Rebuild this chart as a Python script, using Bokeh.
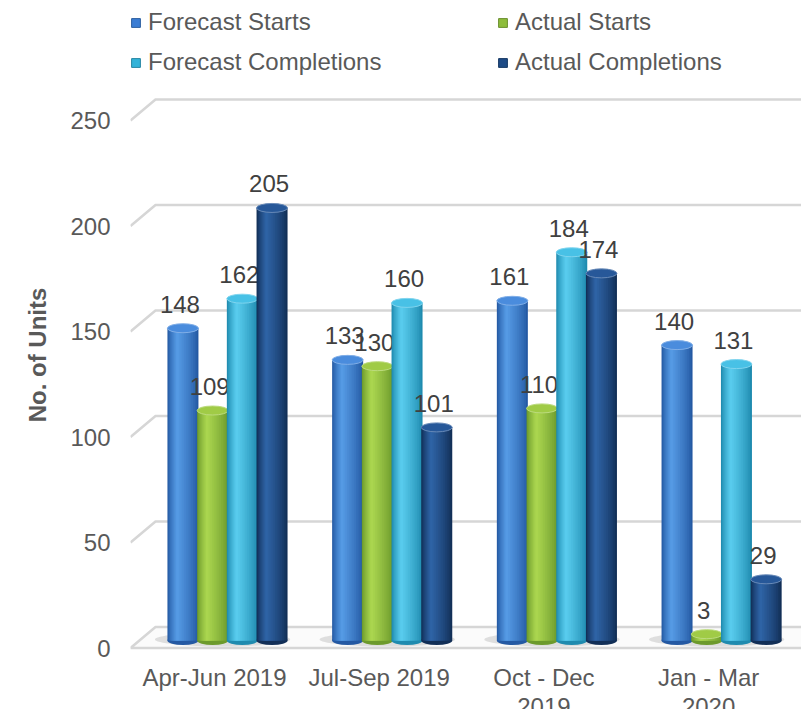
from bokeh.plotting import figure
from bokeh.models import Range1d, LinearAxis, FixedTicker, Legend, LegendItem
from bokeh.core.properties import value
from bokeh.embed import file_html
from bokeh.resources import INLINE

# ---------------- data ----------------
categories = ["Apr-Jun 2019", "Jul-Sep 2019", "Oct - Dec\n2019", "Jan - Mar\n2020"]
series_names = ["Forecast Starts", "Actual Starts", "Forecast Completions", "Actual Completions"]
forecast_starts = [148, 133, 161, 140]
actual_starts = [109, 130, 110, 3]
forecast_completions = [162, 160, 184, 131]
actual_completions = [205, 101, 174, 29]
y_ticks = [0, 50, 100, 150, 200, 250]
y_title = "No. of Units"

series_values = [forecast_starts, actual_starts, forecast_completions, actual_completions]

# ---------------- styles ----------------
FONT = value("Liberation Sans")
# (dark edge, light highlight, top cap, legend/base)
palette = [
    ("#2459a3", "#559ae4", "#4a8cdd", "#3b7dd4"),
    ("#6c9a2c", "#aad54f", "#a0cb46", "#8ebd3c"),
    ("#1f8baf", "#58cbed", "#48c1e6", "#33b3d9"),
    ("#122f57", "#2e63a5", "#275899", "#1e4b86"),
]

W, H = 801, 709
PX_Y = 2.11            # px per unit
PX_X = 164.7           # px per category
frame_left_px = 130
frame_w = W - frame_left_px
y_start = (640 - H) / PX_Y
y_end = y_start + H / PX_Y
x_start = -84 / PX_X
x_end = x_start + frame_w / PX_X

front_off = 7.5 / PX_Y
back_off = 13.5 / PX_Y
depth_dx = 25 / PX_X
group_shift = 13 / PX_X
pitch = 29.7 / PX_X
bar_w = 31 / PX_X


def hex2rgb(h):
    h = h.lstrip("#")
    return tuple(int(h[i:i + 2], 16) for i in (0, 2, 4))


def mix(c1, c2, t):
    a, b = hex2rgb(c1), hex2rgb(c2)
    return "#%02x%02x%02x" % tuple(int(round(a[i] + (b[i] - a[i]) * t)) for i in range(3))


p = figure(width=W, height=H, output_backend="svg", toolbar_location=None,
           x_axis_location=None, y_axis_location=None,
           x_range=Range1d(x_start, x_end), y_range=Range1d(y_start, y_end),
           min_border_left=frame_left_px, min_border_right=0,
           min_border_top=0, min_border_bottom=0)
p.outline_line_color = None
p.xgrid.visible = False
p.ygrid.visible = False
p.background_fill_color = "white"

p.extra_y_ranges = {"front": Range1d(y_start + front_off, y_end + front_off)}
yaxis = LinearAxis(y_range_name="front", ticker=FixedTicker(ticks=y_ticks),
                   axis_label=y_title)
yaxis.axis_line_color = None
yaxis.major_tick_line_color = None
yaxis.minor_tick_line_color = None
yaxis.major_tick_out = 0
yaxis.major_label_standoff = 20
yaxis.major_label_text_font = "Liberation Sans"
yaxis.major_label_text_font_size = "24px"
yaxis.major_label_text_color = "#595959"
yaxis.axis_label_text_font = "Liberation Sans"
yaxis.axis_label_text_font_size = "24px"
yaxis.axis_label_text_font_style = "bold"
yaxis.axis_label_text_color = "#595959"
yaxis.axis_label_standoff = 16
p.add_layout(yaxis, "left")

# ---------------- floor and gridlines ----------------
x_back_left = x_start + depth_dx
p.patch([x_start, x_end + 0.05, x_end + 0.05, x_back_left],
        [-front_off, -front_off, back_off, back_off],
        fill_color="#fbfbfb", line_color="#d6d6d6", line_width=2.5)
gx, gy = [], []
for t in y_ticks[1:]:
    gx.append([x_start, x_back_left, x_end + 0.05])
    gy.append([t - front_off, t + back_off, t + back_off])
p.multi_line(gx, gy, line_color="#d6d6d6", line_width=2.5)

# shadows on floor
for gi in range(len(categories)):
    p.ellipse(x=[gi + group_shift - 0.03], y=[0.5], width=4 * pitch + 0.1, height=14,
              height_units="screen", fill_color="#b5b5b5", fill_alpha=0.4, line_color=None)

# ---------------- cylinders ----------------
N_LAYERS = 12
legend_renderers = []
for j, vals in enumerate(series_values):
    dark, light, cap, base = palette[j]
    xs = [gi + group_shift + (j - 1.5) * pitch for gi in range(len(categories))]
    p.ellipse(x=xs, y=[0] * len(xs), width=bar_w, height=9, height_units="screen",
              fill_color=dark, line_color=None)
    for k in range(N_LAYERS):
        frac = k / N_LAYERS
        w = bar_w * (1 - frac)
        shift = -0.38 * bar_w * frac / 2
        col = mix(dark, light, (k / (N_LAYERS - 1)) ** 0.8)
        p.vbar(x=[x + shift for x in xs], top=vals, bottom=0, width=w,
               fill_color=col, line_color=None)
    p.ellipse(x=xs, y=vals, width=bar_w, height=9, height_units="screen",
              fill_color=cap, line_color=mix(cap, "#ffffff", 0.3), line_width=1)
    legend_renderers.append(p.vbar(x=[xs[0]], top=[0], bottom=0, width=0,
                                   fill_color=base, line_color=mix(base, "#000000", 0.25)))
    p.text(x=xs, y=vals, text=[str(v) for v in vals], text_align="center",
           text_baseline="middle", y_offset=-24, x_offset=-3,
           text_font=FONT, text_font_size="24px", text_color="#404040")

# category labels
p.text(x=list(range(len(categories))), y=[-front_off] * len(categories), text=categories,
       text_align="center", text_baseline="top", y_offset=16,
       text_font=FONT, text_font_size="24px", text_color="#595959", text_line_height=1.08)

# ---------------- legend ----------------
items = [LegendItem(label=series_names[j], renderers=[legend_renderers[j]]) for j in range(4)]
legend = Legend(items=items, ncols=2, orientation="horizontal", location=(0, H - 8 - 68),
                margin=0, padding=0, spacing=12, label_width=337, label_height=28,
                glyph_width=11, glyph_height=11, label_standoff=7,
                label_text_font="Liberation Sans", label_text_font_size="24px",
                label_text_color="#595959", border_line_color=None,
                background_fill_alpha=0)
p.add_layout(legend, "center")

open("out.html", "w").write(file_html(p, INLINE))
